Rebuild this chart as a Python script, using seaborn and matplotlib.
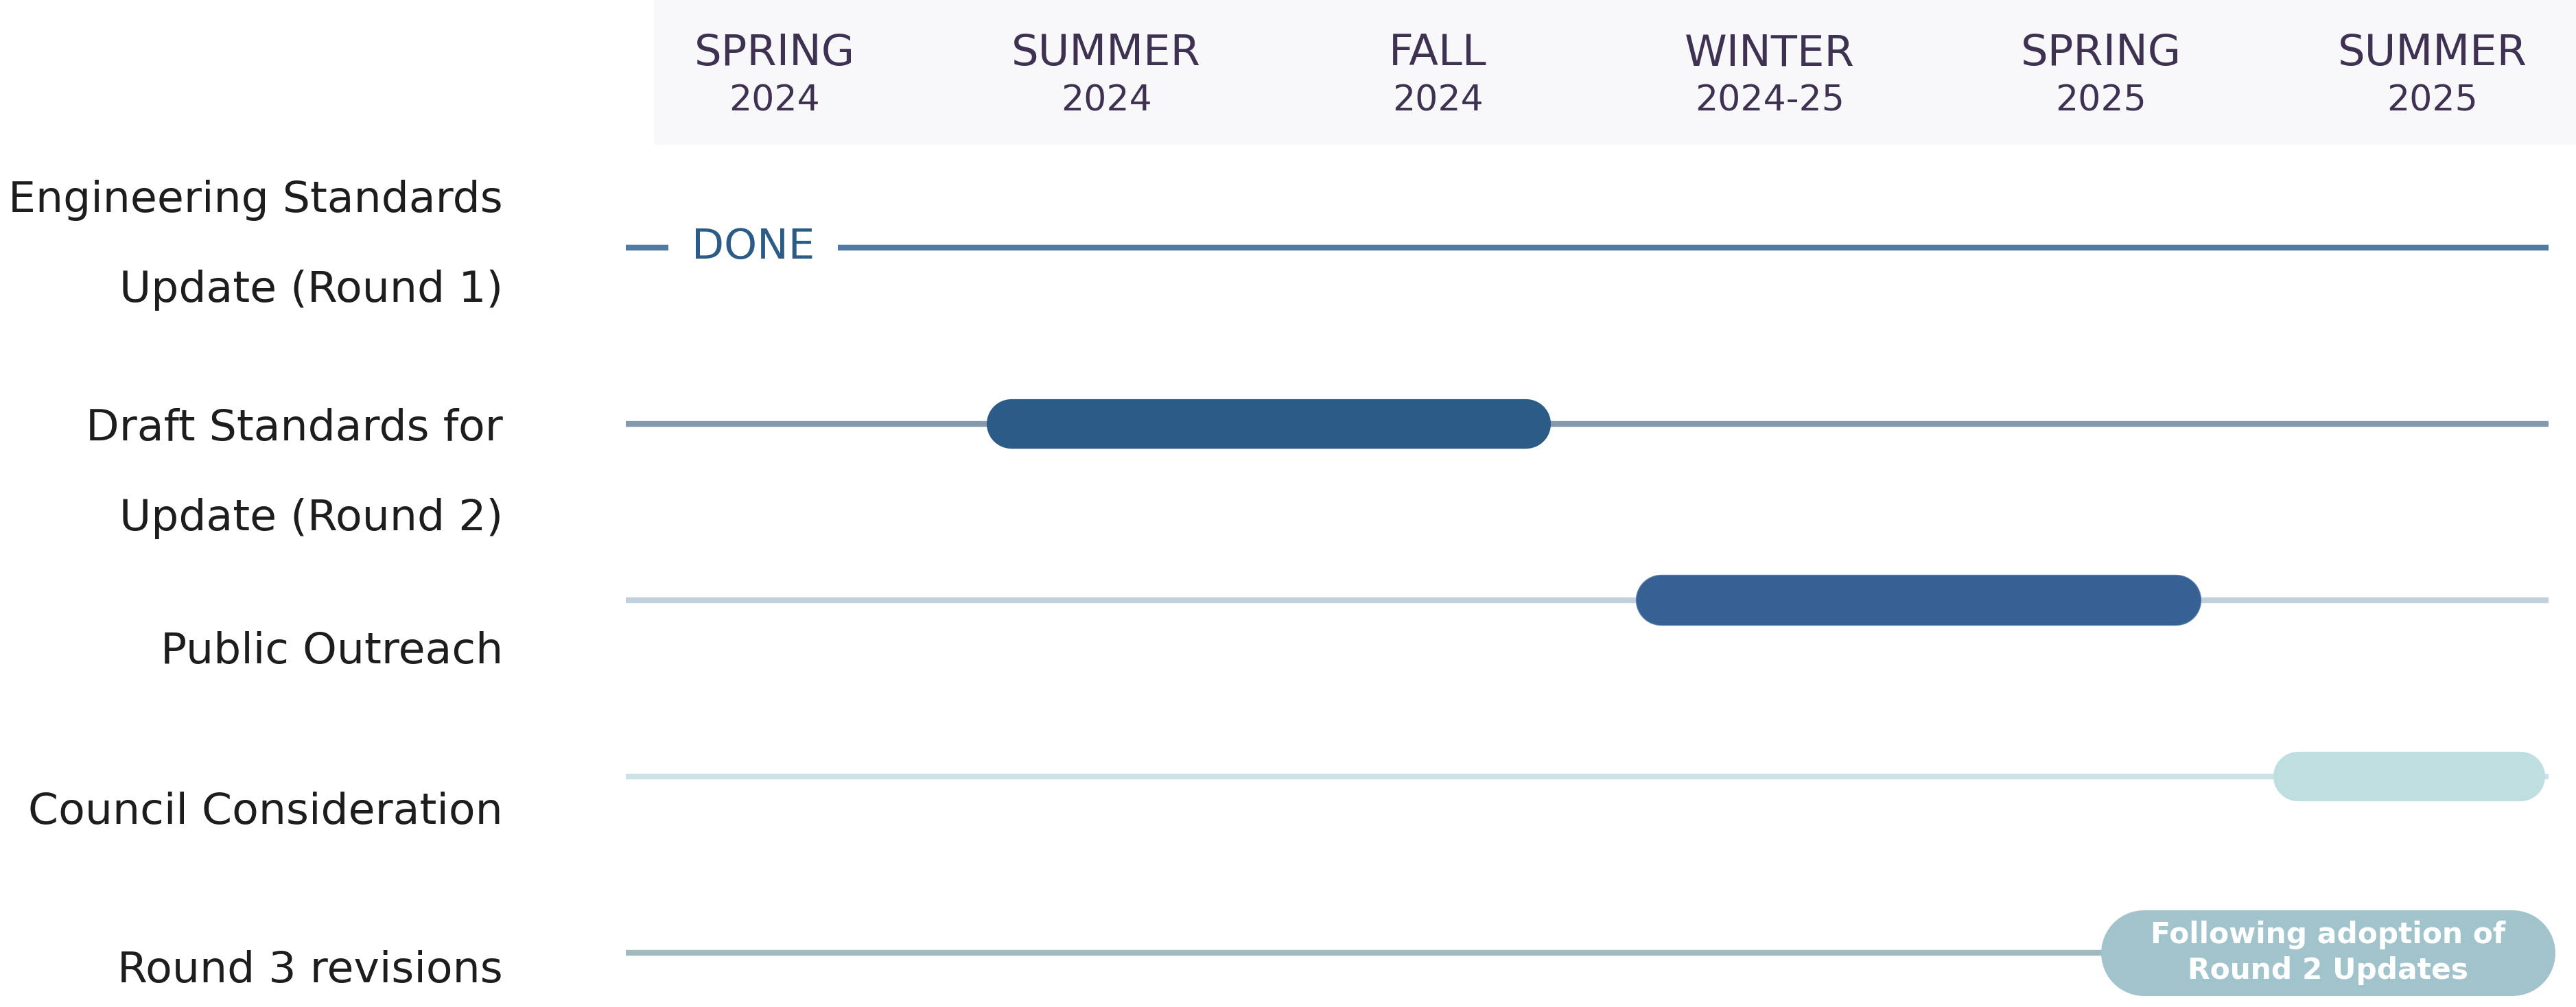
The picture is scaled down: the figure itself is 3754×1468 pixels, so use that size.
import numpy as np
import pandas as pd
import matplotlib
matplotlib.use("Agg")
import matplotlib.pyplot as plt
import seaborn as sns
from matplotlib.patches import Rectangle
from matplotlib.transforms import blended_transform_factory

# ---------------- data ----------------
seasons = ["SPRING", "SUMMER", "FALL", "WINTER", "SPRING", "SUMMER"]
season_years = ["2024", "2024", "2024", "2024-25", "2025", "2025"]

tasks = [
    "Engineering Standards Update (Round 1)",
    "Draft Standards for Update (Round 2)",
    "Public Outreach",
    "Council Consideration",
    "Round 3 revisions",
]
task_label_lines = [
    ["Engineering Standards", "Update (Round 1)"],
    ["Draft Standards for", "Update (Round 2)"],
    ["Public Outreach"],
    ["Council Consideration"],
    ["Round 3 revisions"],
]
# timeline in "season" units (0 = Spring 2024 ... 5 = Summer 2025)
timeline_start = -0.45
timeline_end = 5.35
bar_start = [np.nan, 0.64, 2.60, 4.52, 4.00]
bar_end = [np.nan, 2.34, 4.30, 5.34, 5.37]
status_text = "DONE"
status_pos = -0.065
note_text = "Following adoption of\nRound 2 Updates"

# ---------------- styles ----------------
line_colors = ["#52799e", "#8499ae", "#c2d0de", "#cce2e4", "#9fbbbd"]
bar_colors = [None, "#2a5c87", "#376192", "#bfdee0", "#a1c4cc"]
header_color = "#3f3152"
label_color = "#1d1d1d"
band_color = "#f8f8fa"

W, H, DPI = 3755, 1468, 100
sns.set_style("white")
plt.rcParams["font.family"] = ["DejaVu Sans"]

fig = plt.figure(figsize=(W / DPI, H / DPI), dpi=DPI)
fig.patch.set_facecolor("white")
ax = fig.add_axes([0, 0, 1, 1])
ax.patch.set_visible(False)

# axis mapping (layout)
x0_px, col_px = 1129.0, 483.2
row0_px, row_px = 361.0, 257.0
xlim = (-x0_px / col_px, (W - x0_px) / col_px)
ylim = ((H - row0_px) / row_px, -row0_px / row_px)

# header band
fig.add_artist(Rectangle((953 / W, 1 - 211 / H), 1 - 953 / W, 211 / H,
                         transform=fig.transFigure, facecolor=band_color,
                         edgecolor="none", zorder=0))

# background timelines
rows = list(range(len(tasks)))
df_lines = pd.DataFrame({
    "task": [t for t in tasks for _ in range(2)],
    "x": [timeline_start, timeline_end] * len(tasks),
    "y": [r for r in rows for _ in range(2)],
})
sns.lineplot(data=df_lines, x="x", y="y", hue="task",
             palette=dict(zip(tasks, line_colors)), linewidth=6.1,
             legend=False, estimator=None, sort=False, ax=ax, zorder=2,
             solid_capstyle="butt")

ax.set_xlim(*xlim)
ax.set_ylim(*ylim)
fig.canvas.draw()
px_per_unit = ax.transData.transform((1, 0))[0] - ax.transData.transform((0, 0))[0]

# task bars (rounded pills)
for i in rows:
    if np.isnan(bar_start[i]):
        continue
    lw_pt = 90 if i == len(tasks) - 1 else 52
    inset = (lw_pt * DPI / 72 / 2) / px_per_unit
    df_bar = pd.DataFrame({"x": [bar_start[i] + inset, bar_end[i] - inset],
                           "y": [i, i]})
    if i == 2:
        sns.lineplot(data=df_bar, x="x", y="y", color="#5a86b8",
                     linewidth=lw_pt + 1.6, solid_capstyle="round",
                     estimator=None, sort=False, ax=ax, zorder=3, legend=False)
    sns.lineplot(data=df_bar, x="x", y="y", color=bar_colors[i],
                 linewidth=lw_pt, solid_capstyle="round",
                 estimator=None, sort=False, ax=ax, zorder=4, legend=False)

# DONE status marker on row 0
ax.annotate(status_text, xy=(status_pos, 0), xytext=(0, -16 * 72 / DPI),
            textcoords="offset points", ha="center", va="baseline",
            fontsize=44, color="#2a5c87", zorder=5,
            bbox=dict(boxstyle="square,pad=0.55", facecolor="white",
                      edgecolor="none"))

# note inside last pill
last = len(tasks) - 1
ax.text((bar_start[last] + bar_end[last]) / 2, last, note_text,
        ha="center", va="center", fontsize=30.5, fontweight="bold",
        color="white", linespacing=1.3, zorder=6)

# header labels
tr = blended_transform_factory(ax.transData, fig.transFigure)
for k, (s, yv) in enumerate(zip(seasons, season_years)):
    ax.text(k, 1 - 95 / H, s, transform=tr, ha="center", va="baseline",
            fontsize=45, color=header_color)
    ax.text(k, 1 - 162 / H, yv, transform=tr, ha="center", va="baseline",
            fontsize=37.5, color=header_color)

# task labels (right aligned)
label_baselines = [[309, 440], [642, 773], [967], [1201], [1432]]
for lines, bases in zip(task_label_lines, label_baselines):
    for txt, b in zip(lines, bases):
        fig.text(733 / W, 1 - b / H, txt, ha="right", va="baseline",
                 fontsize=45.5, color=label_color)

ax.set_xlim(*xlim)
ax.set_ylim(*ylim)
ax.axis("off")

fig.savefig("out.png", dpi=DPI, facecolor="white")
